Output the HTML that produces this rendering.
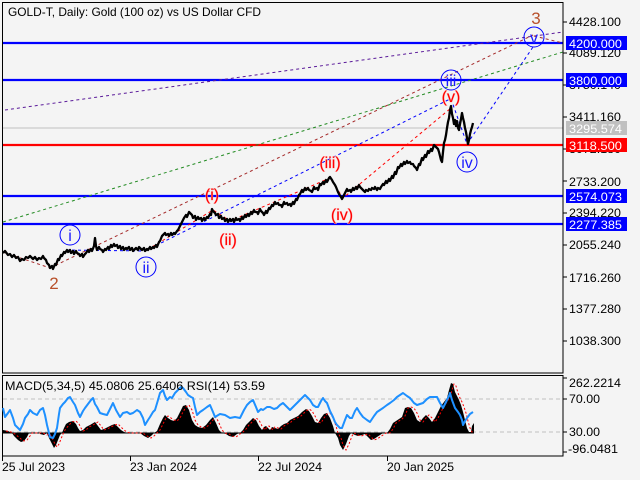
<!DOCTYPE html>
<html><head><meta charset="utf-8"><style>
html,body{margin:0;padding:0;background:#f4f4f4;}
svg{display:block;font-family:"Liberation Sans","DejaVu Sans",sans-serif;}
</style></head><body>
<svg width="640" height="480" viewBox="0 0 640 480" xmlns="http://www.w3.org/2000/svg">
<rect x="0" y="0" width="640" height="480" fill="#f4f4f4"/>

<!-- main frame -->
<rect x="2.5" y="2.5" width="560.5" height="370.5" fill="none" stroke="#000" stroke-width="1"/>
<!-- macd frame -->
<rect x="2.5" y="375.5" width="560.5" height="80.5" fill="none" stroke="#000" stroke-width="1"/>

<!-- title -->
<text x="8" y="16" font-size="12" textLength="253" lengthAdjust="spacingAndGlyphs" fill="#000">GOLD-T, Daily:  Gold (100 oz) vs US Dollar CFD</text>

<!-- horizontal levels -->
<line x1="3" y1="128" x2="563" y2="128" stroke="#c0c0c0" stroke-width="1"/>
<line x1="3" y1="43" x2="563" y2="43" stroke="#0000ff" stroke-width="2.2"/>
<line x1="3" y1="80" x2="563" y2="80" stroke="#0000ff" stroke-width="2.2"/>
<line x1="3" y1="145" x2="563" y2="145" stroke="#ff0000" stroke-width="2.2"/>
<line x1="3" y1="196" x2="563" y2="196" stroke="#0000ff" stroke-width="2.2"/>
<line x1="3" y1="224" x2="563" y2="224" stroke="#0000ff" stroke-width="2.2"/>

<!-- dashed trend lines -->
<g fill="none" stroke-width="1" stroke-dasharray="3,3">
<line x1="5" y1="110" x2="563" y2="32" stroke="#5a1a9a"/>
<line x1="3" y1="222" x2="563" y2="52" stroke="#228b22"/>
<line x1="50" y1="268" x2="533" y2="35" stroke="#a52a2a"/>
<line x1="534" y1="36" x2="563" y2="43" stroke="#a52a2a"/>
<line x1="3" y1="252" x2="50" y2="268" stroke="#a52a2a"/>
<line x1="145" y1="251" x2="450" y2="99" stroke="#0000ff"/>
<line x1="66" y1="250" x2="145" y2="251" stroke="#0000ff"/>
<line x1="451" y1="99" x2="467" y2="144" stroke="#0000ff"/>
<line x1="467" y1="144" x2="533" y2="47" stroke="#0000ff"/>
<polyline points="147,250 213,210 230,221 330,178 343,198 451,108" stroke="#ff0000"/>
</g>

<!-- price line -->
<polyline fill="none" stroke="#000" stroke-width="2.3" stroke-linejoin="round" points="3,253 5,251 8,255 10,254 12,257 14,255 16,258 18,257 20,261 22,259 24,260 26,257 28,258 30,256 33,259 35,257 37,260 39,258 41,259 43,256 44,258 46,260 47,263 49,265 50,268 52,266 53,269 55,264 56,265 58,259 59,260 61,255 62,256 64,252 65,253 67,250 68,252 70,250 71,253 73,251 74,254 76,251 77,253 79,254 80,256 82,254 83,257 85,254 86,253 88,250 89,252 91,249 92,251 94,246 95,238 96,246 97,250 99,247 100,249 102,250 103,252 105,249 106,250 108,247 109,249 111,245 112,247 114,244 115,246 117,245 118,248 120,246 121,249 123,247 124,250 126,248 127,249 129,247 130,250 132,248 133,251 135,249 136,248 138,250 139,247 141,249 142,250 144,248 145,251 147,249 148,250 150,247 151,249 153,247 154,248 156,245 157,247 159,242 160,241 162,236 163,235 165,233 166,235 168,234 169,236 171,233 172,235 174,233 175,234 177,231 178,230 180,226 181,224 183,220 184,218 186,215 187,217 189,212 190,213 192,215 193,218 195,216 196,220 198,217 199,219 201,218 202,221 204,218 205,220 207,217 208,218 210,214 211,215 212,209 213,211 215,213 216,215 218,214 219,218 221,216 222,219 224,218 225,221 227,219 228,222 230,219 231,221 233,219 234,222 236,218 237,220 239,219 240,221 242,217 243,219 245,215 246,217 248,214 249,216 251,212 252,214 254,210 255,212 257,212 258,214 260,209 261,211 263,213 264,215 266,211 267,213 269,208 270,209 272,205 273,206 275,202 276,204 278,203 279,205 281,205 282,207 284,202 285,204 287,203 288,205 290,204 291,206 293,202 294,204 296,199 297,200 299,195 300,194 302,190 303,192 305,188 306,190 308,188 309,190 311,191 312,192 314,187 315,189 317,188 318,190 320,184 321,185 323,182 324,184 326,180 327,182 329,178 330,177 332,180 333,182 335,185 336,187 338,192 339,194 341,197 342,199 344,195 345,193 347,189 348,191 350,190 351,192 353,188 354,190 356,187 357,189 359,185 360,187 362,189 363,190 365,192 366,190 368,191 369,189 371,190 372,188 374,189 375,187 377,190 378,188 380,189 381,187 383,184 384,185 386,181 387,183 389,179 390,181 392,176 393,178 395,172 396,174 398,167 399,168 401,164 402,166 404,162 405,164 407,161 408,163 410,162 411,164 413,164 414,166 416,168 417,170 419,164 420,165 422,158 423,160 425,155 426,157 428,151 429,153 431,149 432,151 434,145 435,146 437,148 438,149 439,152 440,156 441,160 442,162 443,152 444,143 445,140 446,135 447,128 448,122 449,118 450,110 451,106 452,114 453,118 454,124 455,120 456,126 457,121 458,128 459,130 460,124 461,119 462,113 463,118 464,122 465,128 466,132 467,138 468,144 469,140 470,134 471,130 472,127 473,123"/>

<!-- wave labels -->
<g font-size="16" text-anchor="middle">
<g fill="none" stroke="#0000ff" stroke-width="1">
<circle cx="70" cy="235" r="10"/>
<circle cx="146" cy="267" r="10"/>
<circle cx="451" cy="80" r="10"/>
<circle cx="467" cy="162" r="10"/>
<circle cx="534" cy="37" r="10"/>
</g>
<g fill="#1a1aff">
<text x="70" y="241">i</text>
<text x="146" y="273">ii</text>
<text x="451" y="86">iii</text>
<text x="467" y="168">iv</text>
<text x="534" y="43">v</text>
</g>
<g fill="#ff0000" stroke="#ffb8b8" stroke-width="0.8" paint-order="stroke">
<text x="212" y="200">(i)</text>
<text x="228" y="245">(ii)</text>
<text x="330" y="168">(iii)</text>
<text x="342" y="220">(iv)</text>
<text x="451" y="102">(v)</text>
</g>
<g fill="#b8502a" font-size="17">
<text x="54" y="289">2</text>
<text x="536" y="24">3</text>
</g>
</g>

<!-- price axis ticks -->
<line x1="563" y1="2" x2="563" y2="373" stroke="#000" stroke-width="1"/>
<g stroke="#000" stroke-width="1">
<line x1="563" y1="22" x2="567" y2="22"/>
<line x1="563" y1="53" x2="567" y2="53"/>
<line x1="563" y1="85" x2="567" y2="85"/>
<line x1="563" y1="117" x2="567" y2="117"/>
<line x1="563" y1="149" x2="567" y2="149"/>
<line x1="563" y1="181" x2="567" y2="181"/>
<line x1="563" y1="213" x2="567" y2="213"/>
<line x1="563" y1="245" x2="567" y2="245"/>
<line x1="563" y1="277" x2="567" y2="277"/>
<line x1="563" y1="309" x2="567" y2="309"/>
<line x1="563" y1="341" x2="567" y2="341"/>
</g>
<g font-size="12" fill="#000">
<text x="569" y="26" textLength="52" lengthAdjust="spacingAndGlyphs">4428.100</text>
<text x="569" y="57" textLength="52" lengthAdjust="spacingAndGlyphs">4089.120</text>
<text x="569" y="89" textLength="52" lengthAdjust="spacingAndGlyphs">3750.140</text>
<text x="569" y="121" textLength="52" lengthAdjust="spacingAndGlyphs">3411.160</text>
<text x="569" y="153" textLength="52" lengthAdjust="spacingAndGlyphs">3072.180</text>
<text x="569" y="186" textLength="52" lengthAdjust="spacingAndGlyphs">2733.200</text>
<text x="569" y="217" textLength="52" lengthAdjust="spacingAndGlyphs">2394.220</text>
<text x="569" y="249" textLength="52" lengthAdjust="spacingAndGlyphs">2055.240</text>
<text x="569" y="282" textLength="52" lengthAdjust="spacingAndGlyphs">1716.260</text>
<text x="569" y="313" textLength="52" lengthAdjust="spacingAndGlyphs">1377.280</text>
<text x="569" y="345" textLength="52" lengthAdjust="spacingAndGlyphs">1038.300</text>
</g>
<!-- level boxes -->
<rect x="566" y="36" width="61" height="14" fill="#0000ff"/>
<rect x="566" y="73" width="61" height="14" fill="#0000ff"/>
<rect x="566" y="121" width="61" height="14" fill="#c0c0c0"/>
<rect x="566" y="138" width="61" height="14" fill="#ff0000"/>
<rect x="566" y="189" width="61" height="14" fill="#0000ff"/>
<rect x="566" y="217" width="61" height="14" fill="#0000ff"/>
<g font-size="12" fill="#fff">
<text x="569" y="48" textLength="53" lengthAdjust="spacingAndGlyphs">4200.000</text>
<text x="569" y="85" textLength="53" lengthAdjust="spacingAndGlyphs">3800.000</text>
<text x="569" y="133" textLength="53" lengthAdjust="spacingAndGlyphs">3295.574</text>
<text x="569" y="150" textLength="53" lengthAdjust="spacingAndGlyphs">3118.500</text>
<text x="569" y="201" textLength="53" lengthAdjust="spacingAndGlyphs">2574.073</text>
<text x="569" y="229" textLength="53" lengthAdjust="spacingAndGlyphs">2277.385</text>
</g>

<!-- MACD panel -->
<line x1="3" y1="399" x2="563" y2="399" stroke="#c0c0c0" stroke-width="1" stroke-dasharray="4,3"/>
<line x1="3" y1="432" x2="563" y2="432" stroke="#c0c0c0" stroke-width="1" stroke-dasharray="4,3"/>
<polygon fill="#000" points="3,433 3,430 8,431 12,433 14,436 18,440 21,442 24,441 27,437 29,433 40,433 40,434 44,435 47,433 49,438 52,444 54,448 56,445 58,440 60,435 62,433 64,428 66,424 69,422 73,421 76,424 78,428 80,431 83,430 86,427 90,425 95,422 98,426 101,430 104,429 108,427 112,425 115,424 118,427 121,430 124,432 127,433 140,433 144,436 148,438 151,436 154,433 157,431 160,424 163,418 165,415 168,418 171,420 174,421 177,418 180,412 183,406 186,405 189,410 192,420 195,425 198,427 202,428 206,425 210,420 213,417 216,423 219,430 222,433 226,434 229,436 233,437 237,434 240,433 243,430 246,425 250,421 253,418 256,420 259,426 262,430 264,427 266,426 268,428 270,430 272,427 275,428 278,429 281,426 284,424 287,423 290,420 294,418 298,416 302,412 306,409 309,411 312,416 315,422 318,423 321,418 324,414 327,413 330,418 333,426 335,433 338,438 340,445 343,450 346,444 349,436 351,433 355,435 358,436 362,435 365,434 368,437 371,440 374,439 377,437 380,435 383,433 387,433 390,429 393,423 396,421 399,419 402,417 405,408 408,407 411,408 414,413 417,420 420,422 423,418 426,415 429,418 432,422 435,418 438,412 441,406 444,402 447,398 449,390 451,383 453,384 455,392 457,396 459,400 461,405 463,412 465,420 467,428 469,432 471,432 472,426 474,423 474,433"/>
<line x1="3" y1="433" x2="474" y2="433" stroke="#000" stroke-width="1"/>
<polyline fill="none" stroke="#ff0000" stroke-width="1" stroke-dasharray="2,2" points="6,431 11,432 15,434 21,439 24,441 27,440 30,436 32,433 43,433 47,435 50,434 52,438 55,444 57,447 59,444 61,439 63,434 65,430 69,425 72,422 76,421 79,424 81,428 83,431 86,430 89,427 93,425 98,422 101,426 104,430 107,429 111,427 115,425 118,424 121,427 124,430 127,432 130,433 143,433 147,436 151,438 154,436 157,433 160,430 163,424 166,418 168,416 171,418 174,420 177,421 180,418 183,412 186,407 189,405 192,410 195,420 198,425 201,427 205,428 209,425 213,420 216,417 219,423 222,430 225,433 229,434 232,436 236,437 240,434 243,432 246,429 249,425 253,421 256,418 259,420 262,426 265,430 267,427 269,426 271,428 273,430 275,427 278,428 281,429 284,426 287,424 290,423 293,420 297,418 301,416 305,412 309,409 312,411 315,416 318,422 321,423 324,418 327,414 330,413 333,418 336,426 338,433 341,438 343,445 346,450 349,444 352,436 354,433 358,435 361,436 365,435 368,434 371,437 374,440 377,439 380,437 383,435 386,433 390,433 393,429 396,423 399,421 402,419 405,416 408,408 411,407 414,408 417,413 420,420 423,422 426,418 429,415 432,418 435,422 438,418 441,412 444,406 447,402 450,397 452,390 454,384 456,386 458,393 460,398 462,402 464,407 466,413 468,421 470,428 472,432 474,430"/>
<polyline fill="none" stroke="#1e90ff" stroke-width="2" stroke-linejoin="round" points="3,408 5,417 8,413 10,410 13,418 15,425 18,428 20,430 23,424 25,418 28,414 30,410 33,413 37,415 40,410 43,408 45,415 47,425 50,437 53,438 55,434 57,428 59,414 60,408 63,404 65,402 68,398 70,397 73,402 75,405 78,413 80,417 83,411 85,408 88,404 91,400 93,398 95,404 97,407 100,413 103,414 107,415 110,409 113,403 116,410 120,417 123,413 127,412 130,414 133,413 137,410 140,412 143,418 145,425 148,420 150,417 153,412 155,410 158,400 160,393 163,390 165,396 167,400 170,397 172,398 175,393 178,390 181,387 183,388 186,392 188,395 191,397 193,398 195,407 197,415 200,412 203,410 207,407 210,405 213,412 215,417 220,414 225,415 230,418 235,417 240,418 244,410 247,405 250,402 253,400 256,407 258,412 261,409 263,410 267,407 270,407 274,409 277,408 280,405 283,403 287,407 290,410 294,406 297,403 301,399 305,395 308,398 310,400 313,405 316,407 318,407 321,401 323,398 325,401 327,403 330,411 333,417 335,422 337,425 340,428 342,428 345,420 347,415 350,418 352,418 355,411 357,408 360,413 363,417 367,420 370,422 374,416 377,412 380,410 383,408 387,405 390,403 394,400 397,397 400,395 403,393 407,396 410,398 414,403 417,405 420,404 423,403 427,399 430,397 434,397 437,397 440,403 443,408 445,404 447,400 449,396 450,393 452,400 455,408 458,412 460,415 462,420 463,425 465,421 467,418 470,414 473,412"/>
<text x="5" y="390" font-size="12" textLength="260" lengthAdjust="spacingAndGlyphs" fill="#000">MACD(5,34,5) 45.0806 25.6406 RSI(14) 53.59</text>

<!-- MACD axis -->
<line x1="563" y1="375" x2="563" y2="456" stroke="#000" stroke-width="1"/>
<g stroke="#000" stroke-width="1">
<line x1="563" y1="378" x2="567" y2="378"/>
<line x1="563" y1="399" x2="567" y2="399"/>
<line x1="563" y1="432" x2="567" y2="432"/>
<line x1="563" y1="452" x2="567" y2="452"/>
</g>
<g font-size="12" fill="#000">
<text x="569" y="387" textLength="52" lengthAdjust="spacingAndGlyphs">262.2214</text>
<text x="569" y="403" textLength="31" lengthAdjust="spacingAndGlyphs">70.00</text>
<text x="569" y="436" textLength="31" lengthAdjust="spacingAndGlyphs">30.00</text>
<text x="568" y="453" textLength="50" lengthAdjust="spacingAndGlyphs">-96.0481</text>
</g>

<!-- time axis -->
<g stroke="#000" stroke-width="1">
<line x1="2.5" y1="456" x2="2.5" y2="461"/>
<line x1="130.5" y1="456" x2="130.5" y2="461"/>
<line x1="258.5" y1="456" x2="258.5" y2="461"/>
<line x1="387.5" y1="456" x2="387.5" y2="461"/>
</g>
<g font-size="12" fill="#000">
<text x="2" y="471" textLength="63" lengthAdjust="spacingAndGlyphs">25 Jul 2023</text>
<text x="130" y="471" textLength="67" lengthAdjust="spacingAndGlyphs">23 Jan 2024</text>
<text x="258" y="471" textLength="64" lengthAdjust="spacingAndGlyphs">22 Jul 2024</text>
<text x="387" y="471" textLength="67" lengthAdjust="spacingAndGlyphs">20 Jan 2025</text>
</g>
</svg>
</body></html>
